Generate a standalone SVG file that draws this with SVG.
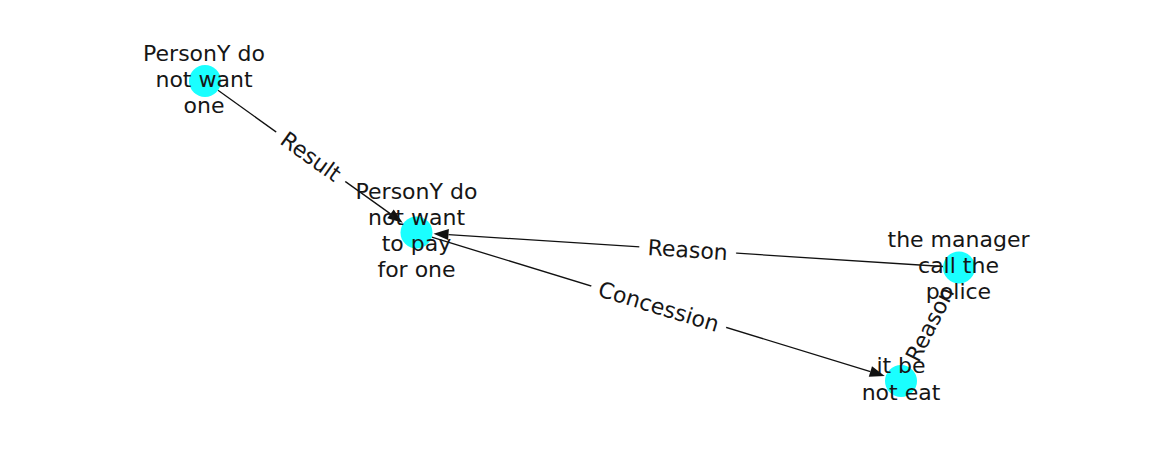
<svg xmlns="http://www.w3.org/2000/svg" width="1162" height="462" viewBox="0 0 1162 462">
<defs>
<style>
.edge{stroke:#111111;stroke-width:1.3;fill:none}
.node{fill:#1affff}
.nl{font-family:"DejaVu Sans","Liberation Sans",sans-serif;font-size:22px;fill:#161616;text-anchor:middle}
.el{font-family:"DejaVu Sans","Liberation Sans",sans-serif;font-size:22px;fill:#161616;text-anchor:middle}
.bb{fill:#ffffff;stroke:#ffffff}
</style>
<marker id="arr" markerUnits="userSpaceOnUse" markerWidth="16" markerHeight="12" refX="0" refY="5.5" orient="auto" viewBox="0 0 16 11" overflow="visible">
<path d="M0,0 L15,5.5 L0,11 Z" fill="#111111"/>
</marker>
</defs>
<rect width="1162" height="462" fill="#ffffff"/>
<g id="connectors">
<line class="edge" x1="218.0" y1="90.3" x2="390.5" y2="213.9" marker-end="url(#arr)"/>
<line class="edge" x1="943.0" y1="266.5" x2="448.5" y2="234.6" marker-end="url(#arr)"/>
<line class="edge" x1="431.8" y1="237.2" x2="870.4" y2="371.6" marker-end="url(#arr)"/>
<line class="edge" x1="951.7" y1="281.7" x2="908.7" y2="365.9"/>
<g transform="translate(310.75,156.75) rotate(35.6)">
<rect class="bb" x="-42" y="-18" width="84" height="36" rx="6"/>
<text class="el" x="0" y="7.5">Result</text>
</g>
<g transform="translate(687.75,250) rotate(3.7)">
<rect class="bb" x="-48" y="-18" width="96" height="36" rx="6"/>
<text class="el" x="0" y="7.5">Reason</text>
</g>
<g transform="translate(658.75,306.75) rotate(17.0)">
<rect class="bb" x="-70" y="-18" width="140" height="36" rx="6"/>
<text class="el" x="0" y="7.5">Concession</text>
</g>
<g transform="translate(930,324.25) rotate(-63.0)">
<rect class="bb" x="-48" y="-18" width="96" height="36" rx="6"/>
<text class="el" x="0" y="7.5">Reason</text>
</g>
</g>
<g id="node-a">
<circle class="node" cx="205" cy="81" r="16"/>
<text class="nl" x="204" y="61">PersonY do</text>
<text class="nl" x="204" y="87">not want</text>
<text class="nl" x="204" y="113">one</text>
</g>
<g id="node-b">
<circle class="node" cx="416.5" cy="232.5" r="16"/>
<text class="nl" x="416.5" y="198.5">PersonY do</text>
<text class="nl" x="416.5" y="224.5">not want</text>
<text class="nl" x="416.5" y="250.5">to pay</text>
<text class="nl" x="416.5" y="276.5">for one</text>
</g>
<g id="node-c">
<circle class="node" cx="959" cy="267.5" r="16"/>
<text class="nl" x="958.5" y="247">the manager</text>
<text class="nl" x="958.5" y="273">call the</text>
<text class="nl" x="958.5" y="299">police</text>
</g>
<g id="node-d">
<circle class="node" cx="901" cy="381" r="16"/>
<text class="nl" x="901" y="373">it be</text>
<text class="nl" x="901" y="399.5">not eat</text>
</g>
</svg>
